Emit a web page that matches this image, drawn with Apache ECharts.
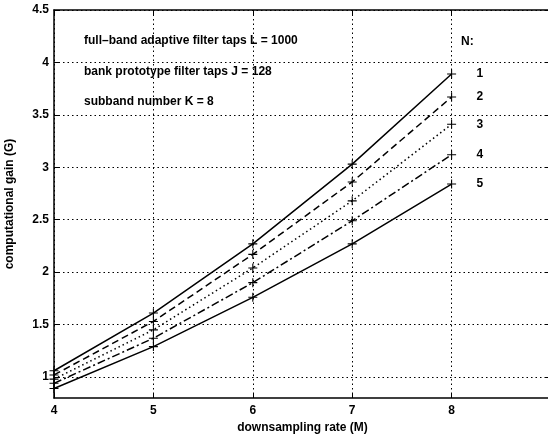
<!DOCTYPE html>
<html>
<head>
<meta charset="UTF-8">
<title>computational gain</title>
<script src="https://cdn.jsdelivr.net/npm/echarts@6/dist/echarts.min.js"></script>
<style>
  html, body { margin: 0; padding: 0; background: #fff; }
  #chart { width: 548px; height: 435px; }
</style>
</head>
<body>
<div id="chart"></div>
<script>
// downsampling rate M
var rates = [4, 5, 6, 7, 8];
// computational gain for N = 1..5
var gainN1 = [1.06, 1.61, 2.27, 3.03, 3.89];
var gainN2 = [1.02, 1.53, 2.17, 2.86, 3.67];
var gainN3 = [0.98, 1.45, 2.04, 2.68, 3.41];
var gainN4 = [0.94, 1.37, 1.90, 2.49, 3.12];
var gainN5 = [0.89, 1.29, 1.76, 2.27, 2.84];
var xTicks = [4, 5, 6, 7, 8, 9];
var yTicks = [1, 1.5, 2, 2.5, 3, 3.5, 4, 4.5];

var font = 'Liberation Sans, Arial, sans-serif';

function pairs(vals) {
  var out = [];
  for (var i = 0; i < rates.length; i++) out.push([rates[i], vals[i]]);
  return out;
}

function line(name, vals, type) {
  return {
    name: name,
    type: 'line',
    data: pairs(vals),
    symbol: 'path://M-1,-0.12H1V0.12H-1Z M-0.12,-1H0.12V1H-0.12Z',
    symbolSize: 9,
    itemStyle: { color: '#000' },
    lineStyle: { color: '#000', width: 1.5, type: type },
    animation: false,
    endLabel: {
      show: true,
      formatter: name,
      offset: [17, 0],
      fontFamily: font,
      fontSize: 12,
      fontWeight: 'bold',
      color: '#000'
    }
  };
}

var chart = echarts.init(document.getElementById('chart'));
var gridLine = { show: true, lineStyle: { color: '#000', type: [1.5, 3], width: 1 } };
chart.setOption({
  animation: false,
  grid: { left: 54, top: 10, width: 497, height: 388, show: false, outerBoundsMode: 'none', containLabel: false },
  xAxis: [{
    type: 'value', min: 4, max: 9, interval: 1,
    name: 'downsampling rate (M)', nameLocation: 'middle', nameGap: 24,
    nameTextStyle: { fontFamily: font, fontSize: 12, fontWeight: 'bold', color: '#000' },
    axisLine: { lineStyle: { color: '#000', width: 1.5 } },
    axisTick: { inside: true, length: 5, lineStyle: { color: '#000' } },
    axisLabel: { fontFamily: font, fontSize: 12, fontWeight: 'bold', color: '#000', margin: 7,
      customValues: xTicks },
    splitLine: gridLine
  }, {
    type: 'value', min: 4, max: 9, interval: 1, position: 'top',
    axisLine: { lineStyle: { color: '#000', width: 1.5 } },
    axisTick: { inside: true, length: 5, lineStyle: { color: '#000' } },
    axisLabel: { show: false },
    splitLine: { show: false }
  }],
  yAxis: [{
    type: 'value', min: 0.8, max: 4.5,
    name: 'computational gain (G)', nameLocation: 'middle', nameGap: 38,
    nameTextStyle: { fontFamily: font, fontSize: 12, fontWeight: 'bold', color: '#000' },
    axisLine: { show: true, lineStyle: { color: '#000', width: 1.5 } },
    axisTick: { show: true, inside: true, length: 5, lineStyle: { color: '#000' }, customValues: yTicks },
    axisLabel: { fontFamily: font, fontSize: 12, fontWeight: 'bold', color: '#000', margin: 5,
      customValues: yTicks },
    splitLine: gridLine
  }, {
    type: 'value', min: 0.8, max: 4.5, position: 'right',
    axisLine: { show: true, lineStyle: { color: '#000', width: 1.5 } },
    axisTick: { show: true, inside: true, length: 5, lineStyle: { color: '#000' }, customValues: yTicks },
    axisLabel: { show: false },
    splitLine: { show: false }
  }],
  graphic: [
    { type: 'text', left: 84, top: 35, style: { text: 'full\u2013band adaptive filter taps L = 1000', font: 'bold 12px ' + font, fill: '#000' } },
    { type: 'text', left: 84, top: 66, style: { text: 'bank prototype filter taps J = 128', font: 'bold 12px ' + font, fill: '#000' } },
    { type: 'text', left: 84, top: 96, style: { text: 'subband number K = 8', font: 'bold 12px ' + font, fill: '#000' } },
    { type: 'text', left: 461, top: 36, style: { text: 'N:', font: 'bold 12px ' + font, fill: '#000' } }
  ],
  series: [
    line('1', gainN1, 'solid'),
    line('2', gainN2, [7, 4]),
    line('3', gainN3, [1.5, 3]),
    line('4', gainN4, [8, 3, 2, 3]),
    line('5', gainN5, 'solid')
  ]
});
</script>
</body>
</html>
